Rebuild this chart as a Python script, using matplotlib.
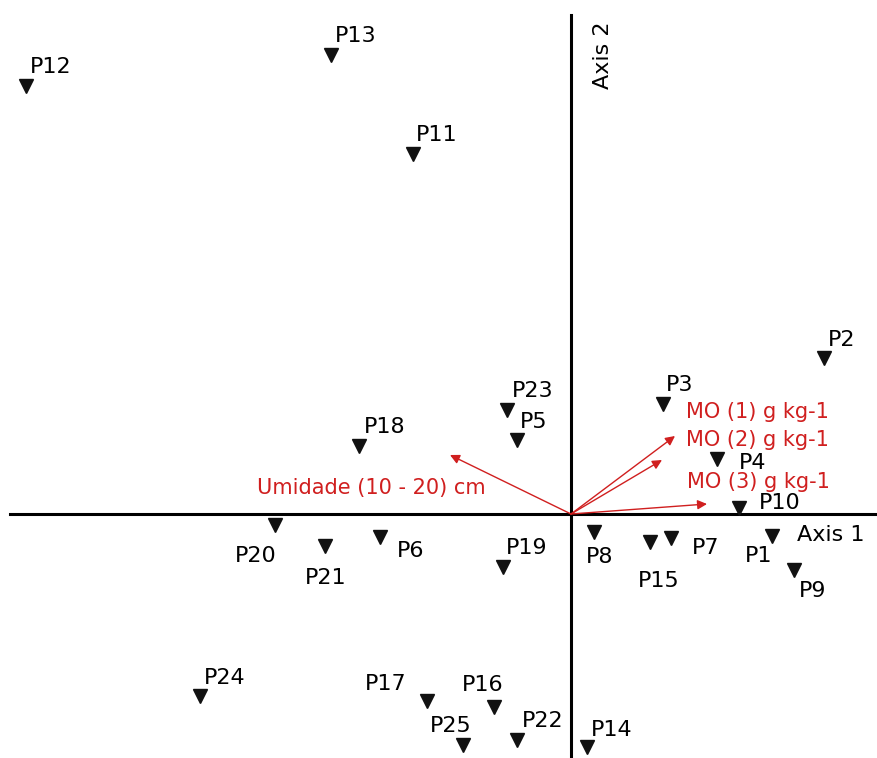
#!/usr/bin/env python3
import matplotlib.pyplot as plt

# site scores (axis 1, axis 2)
sites = ['P1', 'P2', 'P3', 'P4', 'P5', 'P6', 'P7', 'P8', 'P9', 'P10',
         'P11', 'P12', 'P13', 'P14', 'P15', 'P16', 'P17', 'P18', 'P19',
         'P20', 'P21', 'P22', 'P23', 'P24', 'P25']
axis1 = [2.01, 2.53, 0.92, 1.46, -0.54, -1.91, 1.00, 0.23, 2.23, 1.68,
         -1.58, -5.45, -2.40, 0.16, 0.79, -0.77, -1.44, -2.12, -0.68,
         -2.96, -2.46, -0.54, -0.64, -3.71, -1.08]
axis2 = [-0.22, 1.56, 1.10, 0.55, 0.74, -0.23, -0.24, -0.18, -0.56, 0.06,
         3.60, 4.28, 4.59, -2.33, -0.28, -1.93, -1.87, 0.68, -0.53,
         -0.11, -0.32, -2.26, 1.04, -1.82, -2.31]

# environmental vectors
variables = ['Umidade (10 - 20) cm', 'MO (1) g kg-1', 'MO (2) g kg-1', 'MO (3) g kg-1']
var_x = [-1.21, 1.04, 0.91, 1.36]
var_y = [0.59, 0.78, 0.54, 0.10]

# label offsets in pixels (dx, dy)
offsets = {
    'P1': (-13, -20), 'P2': (18, 18), 'P3': (17, 19), 'P4': (36, -4),
    'P5': (17, 18), 'P6': (31, -14), 'P7': (35, -10), 'P8': (6, -25),
    'P9': (19, -21), 'P10': (41, 5), 'P11': (24, 19), 'P12': (25, 19),
    'P13': (25, 19), 'P14': (25, 17), 'P15': (9, -39), 'P16': (-11, 22),
    'P17': (-41, 17), 'P18': (26, 19), 'P19': (24, 19), 'P20': (-19, -31),
    'P21': (1, -32), 'P22': (26, 19), 'P23': (26, 19), 'P24': (25, 18),
    'P25': (-12, 19),
}
var_text = [(-2.0, 0.26, 'center'), (1.15, 1.02, 'left'),
            (1.15, 0.74, 'left'), (1.16, 0.32, 'left')]

red = '#d01f1f'


def main():
    plt.rcParams['font.family'] = ['DejaVu Sans']
    fig = plt.figure(figsize=(8.77, 7.58), dpi=100)
    ax = fig.add_axes([0, 0, 1, 1])
    ax.set_xlim(-5.71, 3.06)
    ax.set_ylim(-2.44, 5.14)
    ax.axis('off')

    # axes cross
    ax.plot([-5.61, 3.06], [0, 0], color='black', lw=2.2, zorder=1)
    ax.plot([0, 0], [-2.43, 4.99], color='black', lw=2.2, zorder=1)

    ax.plot(axis1, axis2, ls='none', marker='v', markersize=10,
            color='#111111', zorder=3)
    for name, x, y in zip(sites, axis1, axis2):
        ax.annotate(name, (x, y), xytext=offsets[name],
                    textcoords='offset pixels', ha='center', va='center',
                    fontsize=16, color='black')

    for name, x, y, (tx, ty, ha) in zip(variables, var_x, var_y, var_text):
        ax.annotate('', xy=(x, y), xytext=(0, 0),
                    arrowprops=dict(arrowstyle='-|>', color=red, lw=1.0,
                                    mutation_scale=14, shrinkA=0, shrinkB=0),
                    zorder=2)
        ax.text(tx, ty, name, color=red, fontsize=15, ha=ha, va='center')

    ax.text(2.26, -0.21, 'Axis 1', fontsize=16, ha='left', va='center')
    ax.text(0.32, 4.59, 'Axis 2', fontsize=16, ha='center', va='center',
            rotation=90)

    fig.savefig('out.png', dpi=100)


if __name__ == '__main__':
    main()
